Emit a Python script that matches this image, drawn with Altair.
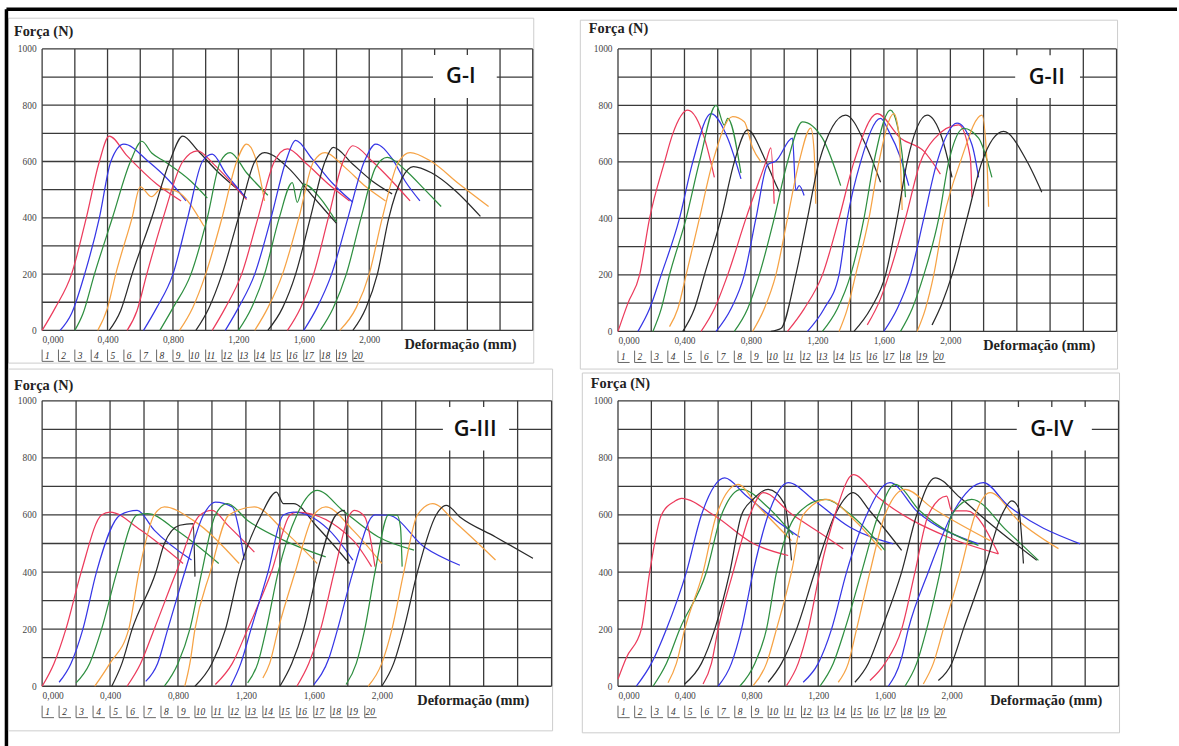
import altair as alt
import pandas as pd

COLORS = ["#ec3b5c", "#3636e6", "#2e8f40", "#f6a345", "#2a2a2a"]

# ---------------- data (deformation mm / force N) ----------------
g1_x = [
    [0.00, 0.08, 0.18, 0.27, 0.35, 0.41, 0.52, 0.70, 0.85],
    [0.11, 0.18, 0.26, 0.35, 0.42, 0.50, 0.65, 0.78, 0.88],
    [0.20, 0.25, 0.32, 0.43, 0.54, 0.61, 0.67, 0.75, 0.91, 1.01],
    [0.34, 0.40, 0.45, 0.55, 0.60, 0.67, 0.73, 0.82, 0.99],
    [0.41, 0.48, 0.55, 0.67, 0.78, 0.86, 0.95, 1.08, 1.22],
    [0.52, 0.58, 0.64, 0.74, 0.86, 0.95, 1.05, 1.15, 1.25],
    [0.62, 0.70, 0.80, 0.89, 0.98, 1.04, 1.12, 1.25],
    [0.72, 0.80, 0.91, 1.01, 1.09, 1.15, 1.25, 1.38],
    [0.84, 0.92, 1.00, 1.10, 1.19, 1.25, 1.30, 1.36],
    [0.94, 1.02, 1.10, 1.20, 1.30, 1.36, 1.50, 1.65, 1.80],
    [1.04, 1.12, 1.22, 1.32, 1.42, 1.50, 1.62, 1.75, 1.88],
    [1.12, 1.20, 1.30, 1.40, 1.49, 1.55, 1.65, 1.78, 1.90],
    [1.20, 1.28, 1.36, 1.45, 1.53, 1.56, 1.60, 1.70, 1.80],
    [1.30, 1.38, 1.47, 1.57, 1.66, 1.73, 1.85, 1.98, 2.10],
    [1.38, 1.47, 1.55, 1.64, 1.73, 1.78, 1.90, 2.02, 2.14],
    [1.50, 1.58, 1.66, 1.75, 1.84, 1.90, 2.02, 2.14, 2.25],
    [1.60, 1.68, 1.77, 1.87, 1.97, 2.04, 2.14, 2.22, 2.31],
    [1.70, 1.78, 1.86, 1.95, 2.04, 2.11, 2.22, 2.34, 2.44],
    [1.82, 1.92, 2.00, 2.08, 2.18, 2.25, 2.38, 2.55, 2.73],
    [1.90, 1.98, 2.05, 2.12, 2.20, 2.27, 2.38, 2.52, 2.68],
]
g1_f = [
    [0, 80, 200, 400, 600, 690, 620, 520, 460],
    [0, 60, 200, 400, 600, 662, 600, 530, 460],
    [0, 60, 200, 400, 600, 672, 630, 600, 530, 470],
    [0, 80, 200, 400, 510, 475, 505, 495, 370],
    [0, 70, 200, 400, 600, 690, 640, 560, 490],
    [0, 70, 200, 400, 600, 638, 590, 530, 465],
    [0, 80, 200, 400, 600, 626, 560, 470],
    [0, 80, 200, 400, 600, 632, 560, 480],
    [0, 80, 200, 400, 600, 662, 620, 460],
    [0, 80, 200, 400, 600, 632, 580, 480, 380],
    [0, 80, 200, 400, 600, 645, 590, 520, 460],
    [0, 80, 200, 400, 600, 675, 610, 520, 455],
    [0, 80, 200, 400, 525, 455, 520, 470, 385],
    [0, 80, 200, 400, 600, 632, 580, 510, 460],
    [0, 80, 200, 400, 600, 650, 590, 530, 485],
    [0, 80, 200, 400, 600, 656, 600, 530, 460],
    [0, 80, 200, 400, 600, 662, 610, 530, 460],
    [0, 80, 200, 400, 580, 615, 570, 500, 440],
    [0, 80, 200, 400, 600, 632, 600, 520, 440],
    [0, 80, 200, 400, 540, 582, 560, 500, 405],
]

g2_x = [
    [0.00, 0.06, 0.13, 0.19, 0.28, 0.33, 0.42, 0.52, 0.58],
    [0.12, 0.19, 0.26, 0.37, 0.45, 0.56, 0.66, 0.74],
    [0.21, 0.26, 0.31, 0.41, 0.49, 0.59, 0.64, 0.66, 0.74],
    [0.31, 0.36, 0.41, 0.49, 0.57, 0.69, 0.76, 0.81, 0.86],
    [0.39, 0.46, 0.52, 0.62, 0.70, 0.78, 0.88, 0.95, 0.97],
    [0.50, 0.58, 0.66, 0.77, 0.89, 0.92, 0.94],
    [0.59, 0.68, 0.76, 0.83, 0.90, 0.95, 1.05, 1.07, 1.09, 1.12],
    [0.70, 0.78, 0.85, 0.94, 1.02, 1.11, 1.23, 1.34],
    [0.81, 0.88, 0.95, 1.02, 1.09, 1.16, 1.18, 1.19],
    [0.92, 0.98, 1.07, 1.14, 1.21, 1.37, 1.49, 1.58],
    [1.02, 1.12, 1.23, 1.33, 1.42, 1.56, 1.70, 1.84, 1.94],
    [1.14, 1.24, 1.33, 1.38, 1.46, 1.58, 1.63, 1.70, 1.75],
    [1.23, 1.32, 1.40, 1.48, 1.54, 1.64, 1.68, 1.71, 1.73],
    [1.33, 1.38, 1.43, 1.51, 1.57, 1.66, 1.69, 1.71],
    [1.42, 1.52, 1.61, 1.68, 1.74, 1.86, 1.95, 2.01],
    [1.50, 1.58, 1.63, 1.73, 1.82, 1.90, 2.05, 2.12, 2.13],
    [1.60, 1.68, 1.76, 1.84, 1.92, 2.04, 2.13, 2.17],
    [1.70, 1.77, 1.84, 1.93, 1.99, 2.08, 2.17, 2.25],
    [1.80, 1.85, 1.90, 1.96, 2.06, 2.19, 2.22, 2.23],
    [1.89, 1.95, 2.01, 2.10, 2.19, 2.32, 2.46, 2.55],
]
g2_f = [
    [0, 100, 200, 400, 600, 700, 783, 684, 545],
    [0, 80, 200, 400, 600, 771, 684, 540],
    [0, 80, 200, 400, 600, 800, 730, 754, 560],
    [17, 80, 200, 400, 600, 760, 742, 650, 600],
    [0, 80, 200, 400, 600, 713, 615, 520, 495],
    [0, 80, 200, 400, 600, 650, 452],
    [0, 80, 200, 400, 590, 603, 684, 499, 516, 481],
    [0, 80, 200, 400, 600, 742, 684, 516],
    [0, 80, 200, 400, 600, 720, 640, 452],
    [0, 10, 200, 400, 600, 766, 661, 528],
    [0, 80, 200, 400, 600, 771, 684, 638, 557],
    [0, 80, 200, 400, 600, 754, 708, 615, 516],
    [0, 80, 200, 400, 600, 783, 730, 626, 475],
    [0, 80, 200, 400, 600, 771, 700, 430],
    [0, 80, 200, 400, 600, 766, 684, 545],
    [23, 116, 200, 400, 600, 680, 731, 615, 475],
    [0, 80, 200, 400, 600, 737, 661, 545],
    [0, 80, 200, 400, 600, 719, 684, 545],
    [0, 80, 200, 400, 600, 766, 603, 441],
    [23, 100, 200, 400, 600, 708, 603, 493],
]

g3_x = [
    [0.00, 0.07, 0.14, 0.23, 0.35, 0.40, 0.58, 0.83],
    [0.10, 0.17, 0.24, 0.32, 0.46, 0.56, 0.66, 0.88],
    [0.20, 0.28, 0.35, 0.44, 0.56, 0.62, 0.79, 1.04],
    [0.31, 0.40, 0.51, 0.57, 0.66, 0.72, 0.89, 1.16],
    [0.41, 0.47, 0.53, 0.67, 0.72, 0.81, 0.89, 0.90],
    [0.50, 0.58, 0.66, 0.79, 0.93, 1.00, 1.10, 1.25],
    [0.61, 0.68, 0.74, 0.84, 0.95, 1.02, 1.12, 1.16, 1.19],
    [0.72, 0.80, 0.87, 0.94, 1.02, 1.09, 1.21, 1.42, 1.67],
    [0.84, 0.87, 0.90, 0.99, 1.10, 1.25, 1.42, 1.62],
    [0.90, 1.00, 1.08, 1.16, 1.29, 1.38, 1.42, 1.48, 1.62, 1.81],
    [1.02, 1.12, 1.21, 1.35, 1.46, 1.50, 1.83, 1.94],
    [1.11, 1.17, 1.23, 1.33, 1.42, 1.48, 1.69, 1.83],
    [1.21, 1.27, 1.32, 1.39, 1.50, 1.62, 1.77, 1.98, 2.19],
    [1.30, 1.34, 1.39, 1.49, 1.60, 1.67, 1.83, 2.00],
    [1.40, 1.47, 1.54, 1.62, 1.73, 1.78, 1.79, 1.80],
    [1.50, 1.57, 1.64, 1.72, 1.81, 1.84, 1.90, 1.96],
    [1.60, 1.69, 1.74, 1.83, 1.96, 2.04, 2.25, 2.46],
    [1.79, 1.85, 1.90, 1.96, 2.04, 2.09, 2.11, 2.12],
    [1.92, 2.00, 2.06, 2.13, 2.21, 2.30, 2.44, 2.67],
    [2.00, 2.07, 2.13, 2.21, 2.32, 2.38, 2.46, 2.67, 2.89],
]
g3_f = [
    [0, 80, 200, 400, 600, 610, 547, 430],
    [14, 80, 200, 400, 600, 616, 547, 442],
    [12, 80, 200, 400, 600, 605, 547, 430],
    [0, 81, 200, 400, 600, 628, 581, 430],
    [0, 80, 200, 400, 500, 564, 570, 384],
    [0, 80, 200, 400, 600, 616, 560, 470],
    [17, 80, 200, 400, 600, 645, 628, 547, 442],
    [0, 80, 200, 400, 600, 640, 581, 512, 453],
    [0, 80, 200, 400, 600, 628, 547, 430],
    [0, 80, 200, 400, 600, 680, 640, 640, 558, 430],
    [6, 80, 200, 400, 600, 610, 512, 419],
    [0, 80, 200, 400, 600, 610, 547, 442],
    [12, 80, 200, 400, 600, 686, 616, 523, 477],
    [29, 80, 200, 400, 600, 628, 547, 430],
    [0, 80, 200, 400, 600, 616, 560, 430],
    [0, 80, 200, 400, 600, 616, 593, 419],
    [6, 100, 200, 400, 600, 599, 488, 424],
    [6, 80, 200, 400, 600, 599, 558, 419],
    [0, 80, 200, 400, 600, 640, 570, 442],
    [0, 80, 200, 400, 600, 634, 593, 523, 448],
]

g4_x = [
    [0.00, 0.05, 0.14, 0.19, 0.26, 0.34, 0.38, 0.58, 0.81, 1.02],
    [0.11, 0.20, 0.29, 0.41, 0.50, 0.64, 0.76, 0.95, 1.09],
    [0.21, 0.29, 0.37, 0.53, 0.62, 0.74, 0.90, 1.05],
    [0.30, 0.35, 0.40, 0.51, 0.59, 0.72, 0.83, 1.04],
    [0.40, 0.50, 0.58, 0.67, 0.74, 0.81, 0.90, 1.00, 1.04],
    [0.51, 0.56, 0.60, 0.69, 0.79, 0.87, 1.04, 1.25, 1.35],
    [0.60, 0.68, 0.74, 0.81, 0.90, 1.02, 1.18, 1.39, 1.65],
    [0.73, 0.82, 0.89, 0.95, 1.07, 1.24, 1.39, 1.60],
    [0.81, 0.89, 0.95, 1.04, 1.11, 1.25, 1.42, 1.58],
    [0.90, 0.98, 1.07, 1.18, 1.30, 1.41, 1.51, 1.70],
    [1.01, 1.08, 1.14, 1.21, 1.30, 1.41, 1.56, 1.98, 2.28],
    [1.11, 1.20, 1.28, 1.37, 1.49, 1.63, 1.79, 2.16],
    [1.21, 1.29, 1.36, 1.46, 1.56, 1.66, 1.81, 2.16],
    [1.32, 1.38, 1.43, 1.51, 1.60, 1.72, 1.88, 2.23],
    [1.42, 1.50, 1.58, 1.70, 1.79, 1.90, 2.05, 2.21, 2.51],
    [1.51, 1.60, 1.70, 1.78, 1.86, 1.97, 2.00, 2.09, 2.28],
    [1.62, 1.70, 1.74, 1.86, 2.00, 2.19, 2.33, 2.77],
    [1.72, 1.79, 1.85, 1.93, 2.00, 2.12, 2.33, 2.52],
    [1.83, 1.89, 1.95, 2.05, 2.14, 2.23, 2.40, 2.64],
    [1.92, 2.00, 2.07, 2.19, 2.30, 2.36, 2.40, 2.43],
]
g4_f = [
    [25, 100, 200, 400, 600, 648, 658, 597, 500, 458],
    [0, 80, 200, 400, 600, 730, 672, 580, 522],
    [0, 80, 200, 400, 600, 690, 626, 530],
    [12, 80, 200, 400, 600, 707, 637, 510],
    [8, 80, 200, 400, 600, 655, 690, 637, 441],
    [8, 80, 200, 400, 600, 678, 603, 522, 482],
    [0, 80, 200, 400, 600, 713, 649, 557, 499],
    [0, 80, 200, 400, 600, 655, 603, 476],
    [2, 80, 200, 400, 600, 655, 580, 476],
    [14, 80, 200, 400, 600, 678, 614, 476],
    [2, 80, 200, 400, 600, 741, 661, 522, 464],
    [14, 80, 200, 400, 600, 713, 614, 499],
    [0, 80, 200, 400, 600, 707, 614, 493],
    [14, 80, 200, 400, 600, 690, 626, 510],
    [14, 80, 200, 400, 600, 730, 661, 580, 441],
    [20, 80, 200, 400, 600, 666, 614, 614, 464],
    [0, 100, 200, 400, 600, 713, 637, 499],
    [0, 80, 200, 400, 600, 655, 545, 441],
    [8, 80, 200, 400, 600, 678, 580, 482],
    [20, 80, 200, 400, 600, 649, 626, 430],
]

SPECIMENS = list(range(1, 21))
X_TICKS = [0, 0.4, 0.8, 1.2, 1.6, 2.0]
Y_TICKS = [0, 200, 400, 600, 800, 1000]
GRID_X = [0.0, 0.2, 0.4, 0.6, 0.8, 1.0, 1.2, 1.4, 1.6, 1.8, 2.0, 2.2, 2.4, 2.6, 2.8, 3.0]
GRID_Y = [0, 100, 200, 300, 400, 500, 600, 700, 800, 900, 1000]
LABELS = ["G-I", "G-II", "G-III", "G-IV"]

SERIF = "Liberation Serif"
XS = alt.Scale(domain=[0, 3.0], nice=False, zero=False)
YS = alt.Scale(domain=[0, 1000], nice=False, zero=False)
COLOR_SCALE = alt.Scale(domain=SPECIMENS, range=[COLORS[(s - 1) % 5] for s in SPECIMENS])
ONE = pd.DataFrame({"a": [0]})


def panel(xs, fs, label, box, label_x, w, h, ytitle, xtitle_x, frame, extra=None):
    rows = []
    for s, xa, fa in zip(SPECIMENS, xs, fs):
        for j, (xv, fv) in enumerate(zip(xa, fa)):
            rows.append({"spec": s, "x": xv, "y": fv, "o": j})
    df = pd.DataFrame(rows)

    x_axis = alt.Axis(
        values=X_TICKS, labelExpr="replace(format(datum.value, '.3f'), '.', ',')",
        grid=False, ticks=False, domain=False, labelFont=SERIF, labelFontSize=9.5,
        labelColor="#444", labelPadding=4, title="Deformação (mm)", titleFont=SERIF,
        titleFontSize=14.5, titleFontWeight="bold", titleColor="#222",
        titleX=xtitle_x, titleY=14, titleAlign="left", titleBaseline="middle")
    y_axis = alt.Axis(
        values=Y_TICKS, format="d", grid=False, ticks=False, domain=False,
        labelFont=SERIF, labelFontSize=9.5, labelColor="#444", labelPadding=6,
        labelFlush=False, title="Força (N)", titleAngle=0, titleFont=SERIF,
        titleFontSize=14.5, titleFontWeight="bold", titleColor="#222",
        titleX=ytitle[0], titleY=ytitle[1], titleAlign="left", titleBaseline="middle")

    def X(f):
        return alt.X(f, scale=XS, axis=x_axis)

    def Y(f):
        return alt.Y(f, scale=YS, axis=y_axis)

    fr = alt.Chart(ONE).mark_rect(fillOpacity=0, stroke="#cccccc", strokeWidth=1).encode(
        x=alt.value(frame[0]), x2=alt.value(frame[1]),
        y=alt.value(frame[2]), y2=alt.value(frame[3]))

    gx = alt.Chart(pd.DataFrame({"x": GRID_X})).mark_rule(
        color="#3a3a3a", strokeWidth=1.3).encode(x=X("x:Q"))
    gy = alt.Chart(pd.DataFrame({"y": GRID_Y})).mark_rule(
        color="#3a3a3a", strokeWidth=1.3).encode(y=Y("y:Q"))

    bx = alt.Chart(pd.DataFrame({"x": [box[0]], "x2": [box[1]], "y": [826], "y2": [978]})
                   ).mark_rect(fill="white").encode(
        x=X("x:Q"), x2="x2", y=Y("y:Q"), y2="y2")

    lines = alt.Chart(df).mark_line(strokeWidth=1.25, interpolate="monotone").encode(
        x=X("x:Q"), y=Y("y:Q"),
        color=alt.Color("spec:N", scale=COLOR_SCALE, legend=None),
        detail="spec:N",
        order="o:Q")

    tx = alt.Chart(pd.DataFrame({"x": [label_x], "y": [902], "t": [label]})).mark_text(
        font="Open Sans", fontSize=22, fontWeight=600, color="#111").encode(
        x=X("x:Q"), y=Y("y:Q"), text="t:N")

    leg = pd.DataFrame({"x": [(s - 1) * 0.1 for s in SPECIMENS],
                        "xt": [(s - 1) * 0.1 + 0.032 for s in SPECIMENS],
                        "xu": [(s - 1) * 0.1 + 0.07 for s in SPECIMENS],
                        "y": [-92] * 20, "ya": [-68] * 20, "yb": [-110] * 20,
                        "t": [str(s) for s in SPECIMENS]})
    lt = alt.Chart(leg).mark_text(font=SERIF, fontStyle="italic", fontSize=9.5,
                                  color="#333").encode(
        x=X("xt:Q"), y=Y("y:Q"), text="t:N")
    lv = alt.Chart(leg).mark_rule(color="#555", strokeWidth=0.9).encode(
        x=X("x:Q"), y=Y("ya:Q"), y2="yb")
    lu = alt.Chart(leg).mark_rule(color="#555", strokeWidth=0.9).encode(
        x=X("x:Q"), x2="xu", y=Y("yb:Q"))

    layers = [fr, gx, gy, bx, lines, tx, lt, lv, lu]
    if extra:
        layers += extra
    return alt.layer(*layers).properties(width=w, height=h)


border = [
    alt.Chart(ONE).mark_rule(color="black", strokeWidth=3.5).encode(
        x=alt.value(-36), x2=alt.value(1145), y=alt.value(-40)),
    alt.Chart(ONE).mark_rule(color="black", strokeWidth=3.5).encode(
        x=alt.value(-36), y=alt.value(-40), y2=alt.value(705)),
]

p1 = panel(g1_x, g1_f, LABELS[0], (2.39, 2.78), 2.56, 495, 284, (-29, -18), 365,
           (-34, 496, -31, 317), border)
p2 = panel(g2_x, g2_f, LABELS[1], (2.39, 2.78), 2.58, 503, 285, (-30, -21), 368,
           (-38, 504, -29, 323))
p3 = panel(g3_x, g3_f, LABELS[2], (2.36, 2.75), 2.55, 514, 288, (-29, -15), 378,
           (-34, 515, -32, 333))
p4 = panel(g4_x, g4_f, LABELS[3], (2.39, 2.84), 2.60, 505, 288, (-28, -17), 375,
           (-36, 506, -28, 335))

chart = alt.concat(p1, p2, p3, p4, columns=2, spacing={"row": 70, "column": 67},
                   bounds="flush").properties(
    padding={"left": 4.5, "top": 4, "right": 0, "bottom": 0},
    background="white",
).configure_view(stroke=None)

chart.save("out.html", embed_options={"renderer": "svg", "actions": False})
